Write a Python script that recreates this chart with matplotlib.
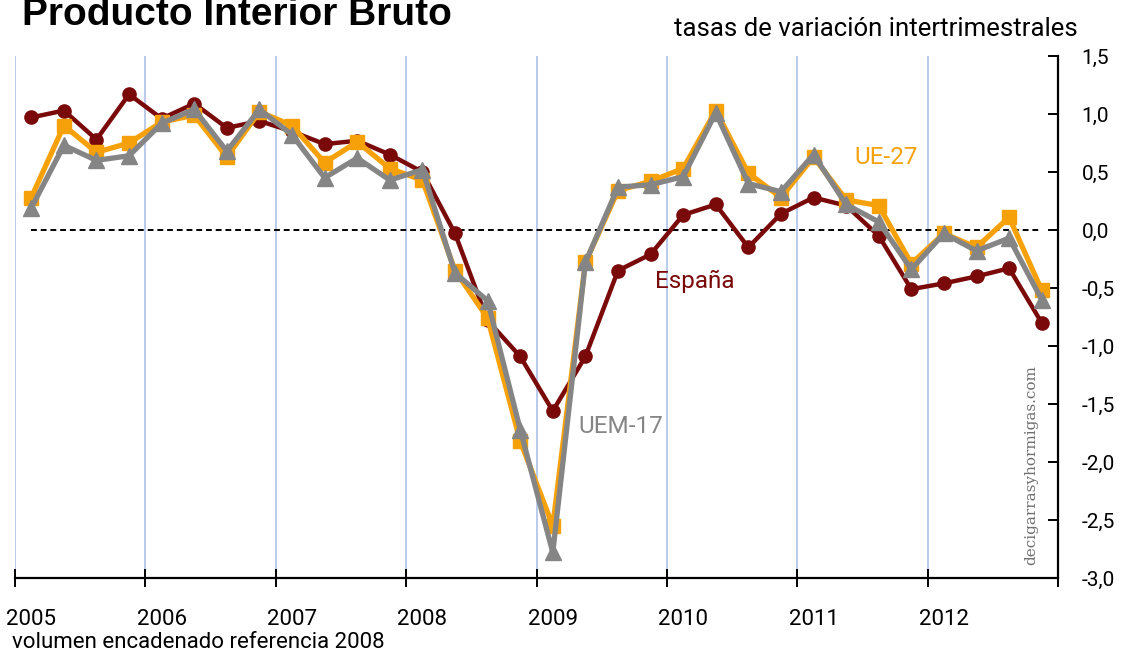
import matplotlib
matplotlib.use("Agg")
import matplotlib.pyplot as plt
import numpy as np

years = ["2005", "2006", "2007", "2008", "2009", "2010", "2011", "2012"]
quarters_per_year = 4

espana = [0.97, 1.03, 0.78, 1.17, 0.96, 1.09, 0.88, 0.94,
          0.85, 0.74, 0.77, 0.65, 0.50, -0.03, -0.78, -1.09,
          -1.56, -1.09, -0.35, -0.21, 0.13, 0.22, -0.15, 0.14,
          0.28, 0.21, -0.05, -0.51, -0.46, -0.40, -0.33, -0.80]
ue27 = [0.28, 0.90, 0.67, 0.75, 0.93, 0.99, 0.63, 1.02,
        0.90, 0.58, 0.76, 0.53, 0.43, -0.35, -0.76, -1.82,
        -2.55, -0.28, 0.34, 0.42, 0.53, 1.03, 0.49, 0.28,
        0.63, 0.26, 0.21, -0.29, -0.03, -0.15, 0.11, -0.52]
uem17 = [0.19, 0.73, 0.60, 0.64, 0.92, 1.04, 0.68, 1.04,
         0.82, 0.45, 0.62, 0.43, 0.52, -0.37, -0.61, -1.72,
         -2.78, -0.28, 0.37, 0.39, 0.46, 1.01, 0.40, 0.33,
         0.65, 0.22, 0.07, -0.34, -0.03, -0.18, -0.07, -0.60]
yticks = [1.5, 1.0, 0.5, 0.0, -0.5, -1.0, -1.5, -2.0, -2.5, -3.0]

c_es = "#7a0a0a"
c_ue = "#f7a10a"
c_uem = "#858585"
grid_c = "#b4c6ea"

plt.rcParams['font.family'] = ['Roboto', 'DejaVu Sans']

fig = plt.figure(figsize=(11.22, 6.55), dpi=100)
ax = fig.add_axes([15/1122, 77/655, (1058-15)/1122, (578-56)/655])

n = len(espana)
x = np.arange(n) + 0.5
nyears = len(years)
ax.set_xlim(0, nyears * quarters_per_year)
ax.set_ylim(-3.0, 1.5)

for k in range(nyears + 1):
    ax.axvline(k * quarters_per_year, color=grid_c, lw=1.3, zorder=0)

ax.plot([x[0], x[-1]], [0, 0], color="black", lw=1.4, ls=(0, (3, 2)), zorder=1)

ax.plot(x, espana, color=c_es, lw=3.2, marker="o", ms=9.5, zorder=2)
ax.plot(x, ue27, color=c_ue, lw=3.8, marker="s", ms=10.5, zorder=3)
ax.plot(x, uem17, color=c_uem, lw=3.8, marker="^", ms=11.5, zorder=4)

for s in ["left", "top"]:
    ax.spines[s].set_visible(False)
ax.spines["right"].set_linewidth(1.6)
ax.spines["bottom"].set_linewidth(1.6)

ax.yaxis.tick_right()
ax.set_yticks(yticks)
ax.set_yticklabels([f"{v:.1f}".replace(".", ",") for v in yticks], fontsize=15)
ax.tick_params(axis="y", direction="in", length=7, width=1.4, pad=17)

ax.set_xticks([k * quarters_per_year for k in range(nyears + 1)])
ax.set_xticklabels([])
ax.tick_params(axis="x", which="major", direction="inout", length=13, width=1.4)
ax.set_xticks([k * quarters_per_year + 0.5 for k in range(nyears)], minor=True)
ax.set_xticklabels(years, minor=True, fontsize=16)
ax.tick_params(axis="x", which="minor", length=0, pad=22)

ax.text(x[19] + 0.15, -0.445, "España", color=c_es, fontsize=17.5, va="center")
ax.text(x[25] + 0.25, 0.625, "UE-27", color=c_ue, fontsize=17.5, va="center")
ax.text(x[17] - 0.2, -1.69, "UEM-17", color=c_uem, fontsize=17.5, va="center")

fig.text(22/1122, 1 - 25/655, "Producto Interior Bruto", fontsize=28,
         fontweight="bold", family="Liberation Sans", va="baseline")
fig.text(674/1122, 1 - 29/655, "tasas de variación intertrimestrales",
         fontsize=18.5, va="center")
fig.text(12/1122, 1 - 643/655, "volumen encadenado referencia 2008",
         fontsize=16, va="center")
fig.text(1031/1122, 1 - 465/655, "decigarrasyhormigas.com", rotation=90,
         fontsize=11, family="DejaVu Serif", color="#707070",
         ha="center", va="center")

fig.savefig("out.png", dpi=100)
